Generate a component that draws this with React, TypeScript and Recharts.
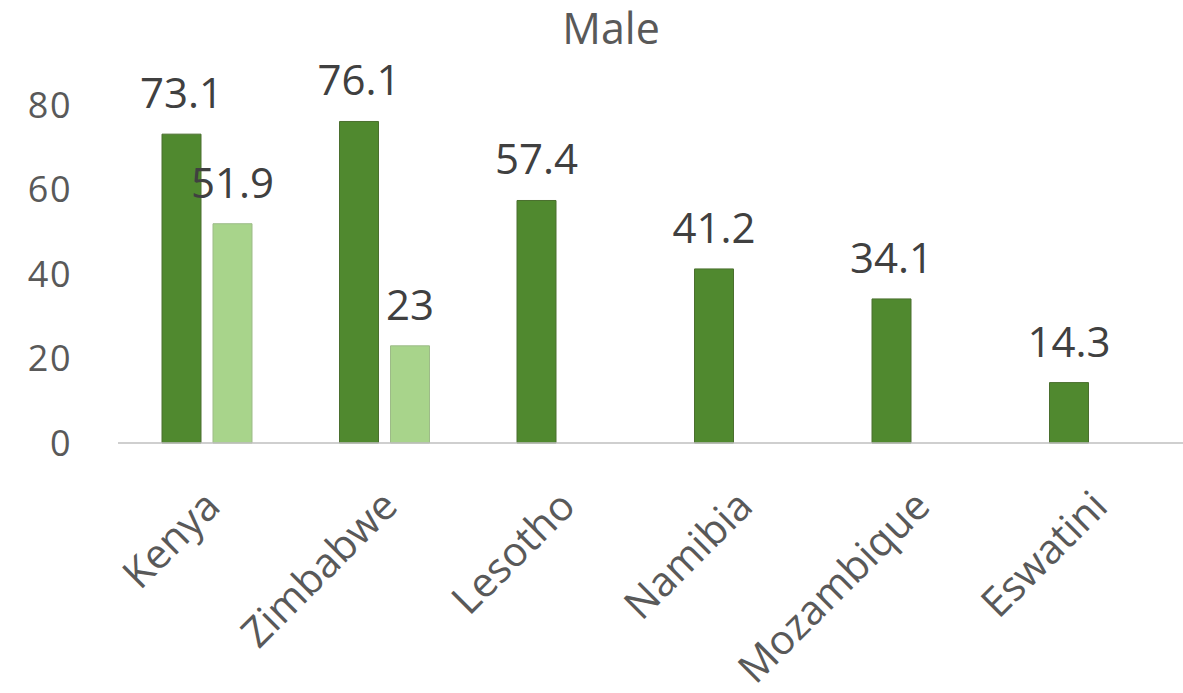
import { BarChart, Bar, XAxis, YAxis, LabelList } from 'recharts';

const countries = ['Kenya', 'Zimbabwe', 'Lesotho', 'Namibia', 'Mozambique', 'Eswatini'];
const darkValues = [73.1, 76.1, 57.4, 41.2, 34.1, 14.3];
const lightValues: (number | null)[] = [51.9, 23, null, null, null, null];
const yTicks = [0, 20, 40, 60, 80];

const data = countries.map((country, i) => ({
  country,
  dark: darkValues[i],
  light: lightValues[i],
}));

const FONT = '"Open Sans", sans-serif';
const GRAY = '#595959';

export default function App() {
  return (
    <div style={{ position: 'absolute', left: 0, top: 0, width: 1183, height: 693, fontFamily: FONT }}>
      <div
        style={{
          position: 'absolute',
          left: 0,
          top: 6,
          width: 1222,
          textAlign: 'center',
          fontSize: 43,
          lineHeight: '43px',
          color: GRAY,
        }}
      >
        Male
      </div>
      <BarChart
        width={1183}
        height={693}
        data={data}
        margin={{ top: 105, right: 0, bottom: 0, left: 0 }}
        barSize={39}
        barGap={12}
      >
        <XAxis
          dataKey="country"
          interval={0}
          angle={-45}
          textAnchor="end"
          height={250}
          tickLine={false}
          tickSize={0}
          tickMargin={45}
          axisLine={{ stroke: '#BFBFBF', strokeWidth: 1.5 }}
          tick={{ fontSize: 41, fill: GRAY, fontFamily: FONT, dx: -5 }}
        />
        <YAxis
          width={118}
          domain={[0, 80]}
          ticks={yTicks}
          tickLine={false}
          axisLine={false}
          tickSize={0}
          tickMargin={46}
          tick={{ fontSize: 36, fill: GRAY, fontFamily: FONT, letterSpacing: 1.5 }}
        />
        <Bar dataKey="dark" fill="#50892F" stroke="#4A6F2E" strokeWidth={1} isAnimationActive={false}>
          <LabelList dataKey="dark" position="top" offset={26} fill="#404040" fontSize={42} fontFamily={FONT} />
        </Bar>
        <Bar dataKey="light" fill="#A8D48B" stroke="#9DBB88" strokeWidth={1} isAnimationActive={false}>
          <LabelList dataKey="light" position="top" offset={26} fill="#404040" fontSize={42} fontFamily={FONT} />
        </Bar>
      </BarChart>
    </div>
  );
}
